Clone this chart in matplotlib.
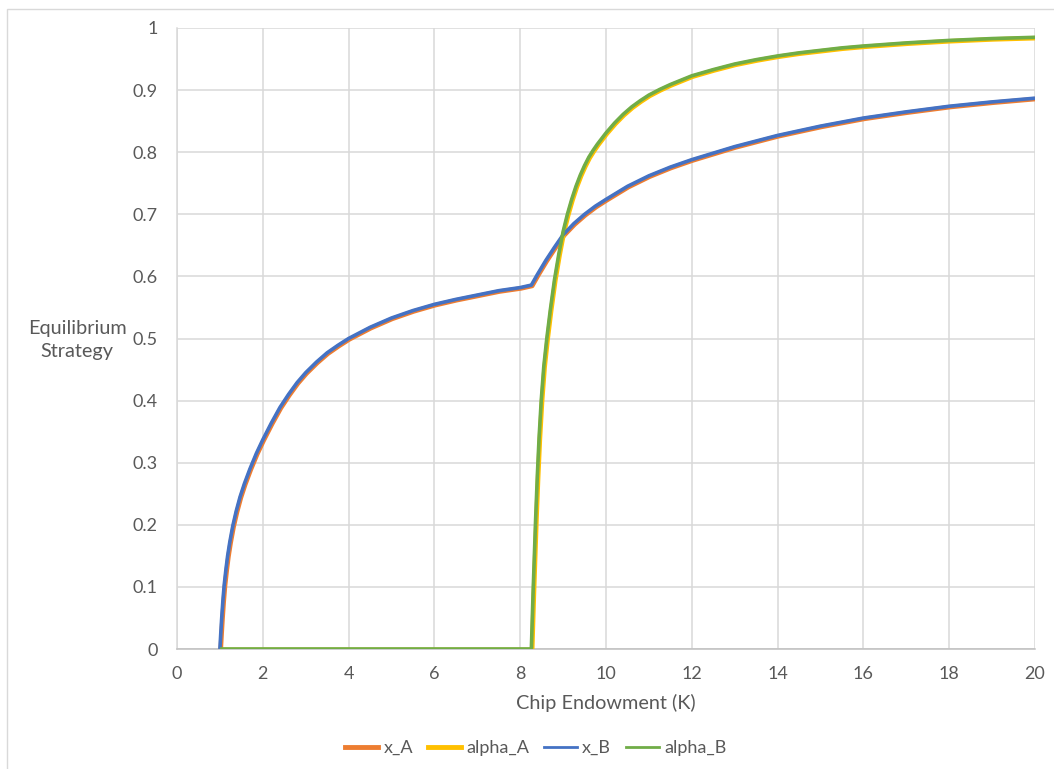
import matplotlib
matplotlib.use("Agg")
import matplotlib.pyplot as plt
from matplotlib import transforms
from matplotlib.lines import Line2D
from matplotlib.patches import Rectangle

# equilibrium strategy vs chip endowment
k_x = [1.0, 1.02, 1.04, 1.07, 1.1, 1.14, 1.18, 1.23, 1.3, 1.38, 1.47, 1.57, 1.7, 1.85,
       2.0, 2.2, 2.4, 2.6, 2.8, 3.0, 3.25, 3.5, 3.75, 4.0, 4.5, 5.0, 5.5, 6.0, 6.5,
       7.0, 7.5, 8.0, 8.26,
       8.4, 8.6, 8.8, 9.0, 9.25, 9.5, 9.75, 10.0, 10.5, 11.0, 11.5, 12.0,
       13.0, 14.0, 15.0, 16.0, 17.0, 18.0, 19.0, 20.0]
x_vals = [0.0, 0.025, 0.048, 0.078, 0.103, 0.128, 0.150, 0.172, 0.198, 0.222, 0.245, 0.266, 0.290, 0.315,
          0.337, 0.364, 0.389, 0.410, 0.429, 0.445, 0.462, 0.477, 0.489, 0.500, 0.518, 0.533, 0.545, 0.555, 0.563,
          0.570, 0.577, 0.582, 0.586,
          0.603, 0.626, 0.647, 0.667, 0.685, 0.700, 0.713, 0.724, 0.745, 0.762, 0.776, 0.788,
          0.809, 0.827, 0.842, 0.855, 0.865, 0.874, 0.881, 0.887]

k_alpha = [1.0, 8.26, 8.28, 8.3, 8.33, 8.36, 8.4, 8.44, 8.49, 8.55, 8.62, 8.7, 8.8, 8.9,
           9.0, 9.1, 9.2, 9.3, 9.4, 9.5, 9.6, 9.7, 9.8, 9.9, 10.0, 10.2, 10.4, 10.6, 10.8,
           11.0, 11.25, 11.5, 11.75, 12.0, 12.5, 13.0, 13.5, 14.0, 14.5, 15.0, 15.5, 16.0,
           17.0, 18.0, 19.0, 20.0]
alpha_vals = [0.0, 0.0, 0.045, 0.09, 0.15, 0.21, 0.28, 0.34, 0.40, 0.455, 0.50, 0.545, 0.595, 0.636,
              0.672, 0.700, 0.724, 0.745, 0.763, 0.7785, 0.792, 0.803, 0.813, 0.822, 0.831, 0.847, 0.861, 0.873, 0.883,
              0.892, 0.901, 0.909, 0.916, 0.923, 0.933, 0.942, 0.949, 0.955, 0.960, 0.964, 0.968, 0.971,
              0.976, 0.980, 0.983, 0.985]

x_ticks = [0, 2, 4, 6, 8, 10, 12, 14, 16, 18, 20]
y_ticks = [0, 0.1, 0.2, 0.3, 0.4, 0.5, 0.6, 0.7, 0.8, 0.9, 1]
y_ticklabels = ['0', '0.1', '0.2', '0.3', '0.4', '0.5', '0.6', '0.7', '0.8', '0.9', '1']

c_orange = '#ED7D31'
c_yellow = '#FFC000'
c_blue = '#4472C4'
c_green = '#70AD47'
c_text = '#595959'

plt.rcParams['font.family'] = ['Lato', 'DejaVu Sans']

fig = plt.figure(figsize=(10.54, 7.69), dpi=100)
# light chart-area frame
fig.patches.append(Rectangle((7 / 1054, -0.1), 1.2, 1.1 - 9 / 769, transform=fig.transFigure,
                             fill=False, edgecolor='#D9D9D9', linewidth=1.0))
ax = fig.add_axes([177 / 1054, 1 - 649 / 769, 858 / 1054, 621 / 769])

# A series sit a hair below/right of the B series
shift = transforms.offset_copy(ax.transData, fig=fig, x=0.6, y=-0.6, units='points')
ax.plot(k_x, x_vals, color=c_orange, lw=3.3, transform=shift, solid_capstyle='butt', zorder=3)
ax.plot(k_alpha, alpha_vals, color=c_yellow, lw=3.3, transform=shift, solid_capstyle='butt', zorder=3)
ax.plot(k_x, x_vals, color=c_blue, lw=2.6, solid_capstyle='butt', zorder=4)
ax.plot(k_alpha, alpha_vals, color=c_green, lw=2.6, solid_capstyle='butt', zorder=4)

ax.set_xlim(0, 20)
ax.set_ylim(0, 1)
ax.set_xticks(x_ticks)
ax.set_yticks(y_ticks)
ax.set_yticklabels(y_ticklabels)
ax.grid(True, color='#D9D9D9', linewidth=1.1)
ax.set_axisbelow(True)
for s in ['top', 'right']:
    ax.spines[s].set_visible(False)
ax.spines['left'].set_color('#D9D9D9')
ax.spines['bottom'].set_color('#BFBFBF')
ax.spines['left'].set_linewidth(1.1)
ax.spines['bottom'].set_linewidth(1.1)
ax.tick_params(length=0, labelsize=13, labelcolor=c_text)
ax.tick_params(axis='y', pad=14)
ax.tick_params(axis='x', pad=12)

fig.text(606 / 1054, 1 - 703 / 769, 'Chip Endowment (K)', ha='center', va='center',
         fontsize=14.3, color=c_text)
fig.text(77 / 1054, 1 - 340 / 769, 'Equilibrium\nStrategy', ha='center', va='center',
         fontsize=14.3, color=c_text, linespacing=1.45)

handles = [Line2D([], [], color=c_orange, lw=3.5),
           Line2D([], [], color=c_yellow, lw=3.5),
           Line2D([], [], color=c_blue, lw=2.0),
           Line2D([], [], color=c_green, lw=2.0)]
fig.legend(handles, ['x_A', 'alpha_A', 'x_B', 'alpha_B'], loc='center',
           bbox_to_anchor=(536 / 1054, 1 - 748 / 769), ncol=4, frameon=False,
           fontsize=13, labelcolor=c_text, handlelength=1.8, handletextpad=0.3,
           columnspacing=0.85)

fig.savefig('out.png', dpi=100)
